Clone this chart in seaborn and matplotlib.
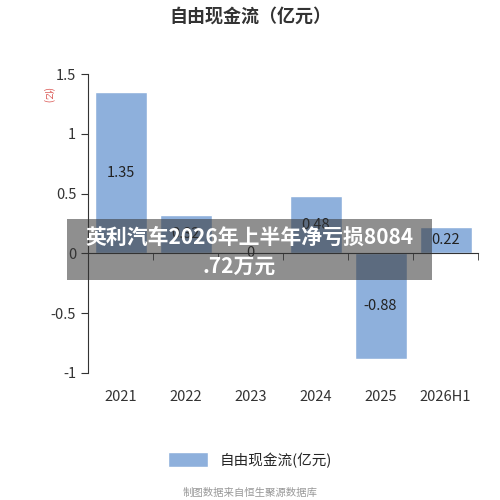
import matplotlib
matplotlib.use("Agg")
import matplotlib.pyplot as plt
import seaborn as sns
import pandas as pd
from matplotlib.patches import Patch, Rectangle

categories = ["2021", "2022", "2023", "2024", "2025", "2026H1"]
values = [1.35, 0.32, 0.0, 0.48, -0.88, 0.22]
labels = ["1.35", "0.32", "0", "0.48", "-0.88", "0.22"]

sns.set_style("white")
plt.rcParams['font.family'] = ['Noto Sans CJK SC', 'DejaVu Sans']

fig = plt.figure(figsize=(5, 5), dpi=100)
ax = fig.add_axes([0.176, 0.254, 0.78, 0.598])
df = pd.DataFrame({"cat": categories, "val": values})
color = "#8eb0dc"
sns.barplot(data=df, x="cat", y="val", color=color, width=0.8, saturation=1, ax=ax)
ax.set_ylim(-1, 1.5)
ax.set_xlim(-0.5, 5.5)
ax.set_yticks([-1, -0.5, 0, 0.5, 1, 1.5])
ax.set_yticklabels(["-1", "-0.5", "0", "0.5", "1", "1.5"])
ax.set_xlabel(""); ax.set_ylabel("")
for s in ["top", "right"]:
    ax.spines[s].set_visible(False)
ax.spines["bottom"].set_position(("data", 0))
ax.spines["bottom"].set_color("#333333")
ax.spines["left"].set_color("#333333")
ax.tick_params(axis="y", length=5, color="#333333", labelsize=10.5, labelcolor="#333333", left=True)
ax.tick_params(axis="x", which="major", length=0, pad=98, labelsize=10.5, labelcolor="#333333")
ax.set_xticks([i - 0.5 for i in range(7)], minor=True)
ax.tick_params(axis="x", which="minor", length=5, color="#333333", bottom=True)

for i, (v, t) in enumerate(zip(values, labels)):
    ax.text(i, v / 2, t, ha="center", va="center", fontsize=10.5, color="#222222")

fig.text(0.5, 0.968, "自由现金流（亿元）", ha="center", va="center", fontsize=13, fontweight="bold", color="#333333")
fig.text(0.096, 0.81, "(亿)", ha="center", va="center", fontsize=7, color="#d9534f", rotation=-90)

fig.legend(handles=[Patch(facecolor=color, label="自由现金流(亿元)")], loc="center",
           bbox_to_anchor=(0.5, 0.08), frameon=False, fontsize=10.5, handlelength=2.8, handleheight=1.2)
fig.text(0.5, 0.015, "制图数据来自恒生聚源数据库", ha="center", va="center", fontsize=7.5, color="#999999")

fig.patches.append(Rectangle((0.134, 0.44), 0.73, 0.122, transform=fig.transFigure,
                             facecolor="#333333", alpha=0.55, edgecolor="none", zorder=10))
fig.text(0.5, 0.525, "英利汽车2026年上半年净亏损8084", ha="center", va="center", fontsize=15,
         fontweight="bold", color="white", zorder=11)
fig.text(0.478, 0.468, ".72万元", ha="center", va="center", fontsize=15,
         fontweight="bold", color="white", zorder=11)

fig.savefig("out.png", dpi=100)
